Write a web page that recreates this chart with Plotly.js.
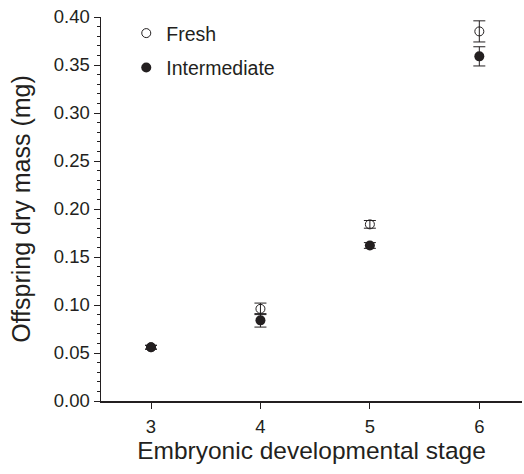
<!DOCTYPE html>
<html><head><meta charset="utf-8">
<script src="https://cdn.plot.ly/plotly-3.0.1.min.js"></script>
<style>html,body{margin:0;padding:0;background:#fff}#chart{width:524px;height:474px}</style>
</head><body><div id="chart"></div>
<script>
const stages = [3, 4, 5, 6];
const freshMean = [0.056, 0.096, 0.184, 0.385];
const freshErr = [0.002, 0.006, 0.004, 0.011];
const interMean = [0.056, 0.084, 0.162, 0.359];
const interErr = [0.002, 0.007, 0.003, 0.010];
const xTickVals = [3, 4, 5, 6];
const yTickVals = [0, 0.05, 0.1, 0.15, 0.2, 0.25, 0.3, 0.35, 0.4];
const yTickText = ["0.00","0.05","0.10","0.15","0.20","0.25","0.30","0.35","0.40"];

const ink = '#231f20';
const traces = [
  {x: stages, y: freshMean, name: 'Fresh', type: 'scatter', mode: 'markers', legendgroup: 'a',
   marker: {symbol: 'circle-open', size: 9, color: ink, line: {width: 1, color: ink}},
   error_y: {type: 'data', array: freshErr, visible: true, color: ink, thickness: 1, width: 6}},
  {x: stages, y: interMean, name: 'Intermediate', type: 'scatter', mode: 'markers', legendgroup: 'b',
   marker: {symbol: 'circle', size: 10, color: ink},
   error_y: {type: 'data', array: interErr, visible: true, color: ink, thickness: 1, width: 6}}
];
const layout = {
  width: 524, height: 474,
  margin: {l: 101, r: 2, t: 17, b: 73},
  paper_bgcolor: '#fff', plot_bgcolor: '#fff',
  font: {family: 'Liberation Sans, Arial, sans-serif', color: ink, size: 18},
  showlegend: true,
  legend: {x: 0.06, y: 1.008, xanchor: 'left', yanchor: 'top', bgcolor: 'rgba(0,0,0,0)',
           font: {size: 19.5, color: ink}, traceorder: 'grouped', tracegroupgap: 6, itemwidth: 30},
  xaxis: {range: [2.543, 6.39], tickvals: xTickVals, ticks: 'outside', ticklen: 6, tickwidth: 1, tickcolor: ink,
          showline: true, linecolor: ink, linewidth: 1.5, showgrid: false, zeroline: false,
          ticklabelstandoff: 2,
          tickfont: {size: 18.5}, title: {text: 'Embryonic developmental stage', font: {size: 24.5}, standoff: 0}},
  yaxis: {range: [0, 0.4], tickvals: yTickVals, ticktext: yTickText, ticks: 'outside', ticklen: 6, tickwidth: 1, tickcolor: ink,
          showline: true, linecolor: ink, linewidth: 1.5, showgrid: false, zeroline: false,
          minor: {dtick: 0.01, ticks: 'outside', ticklen: 3, tickwidth: 1, tickcolor: ink, showgrid: false},
          tickfont: {size: 18.5}, title: {text: 'Offspring dry mass (mg)', font: {size: 25}, standoff: 16}}
};
Plotly.newPlot('chart', traces, layout, {displayModeBar: false, staticPlot: true});
</script></body></html>
